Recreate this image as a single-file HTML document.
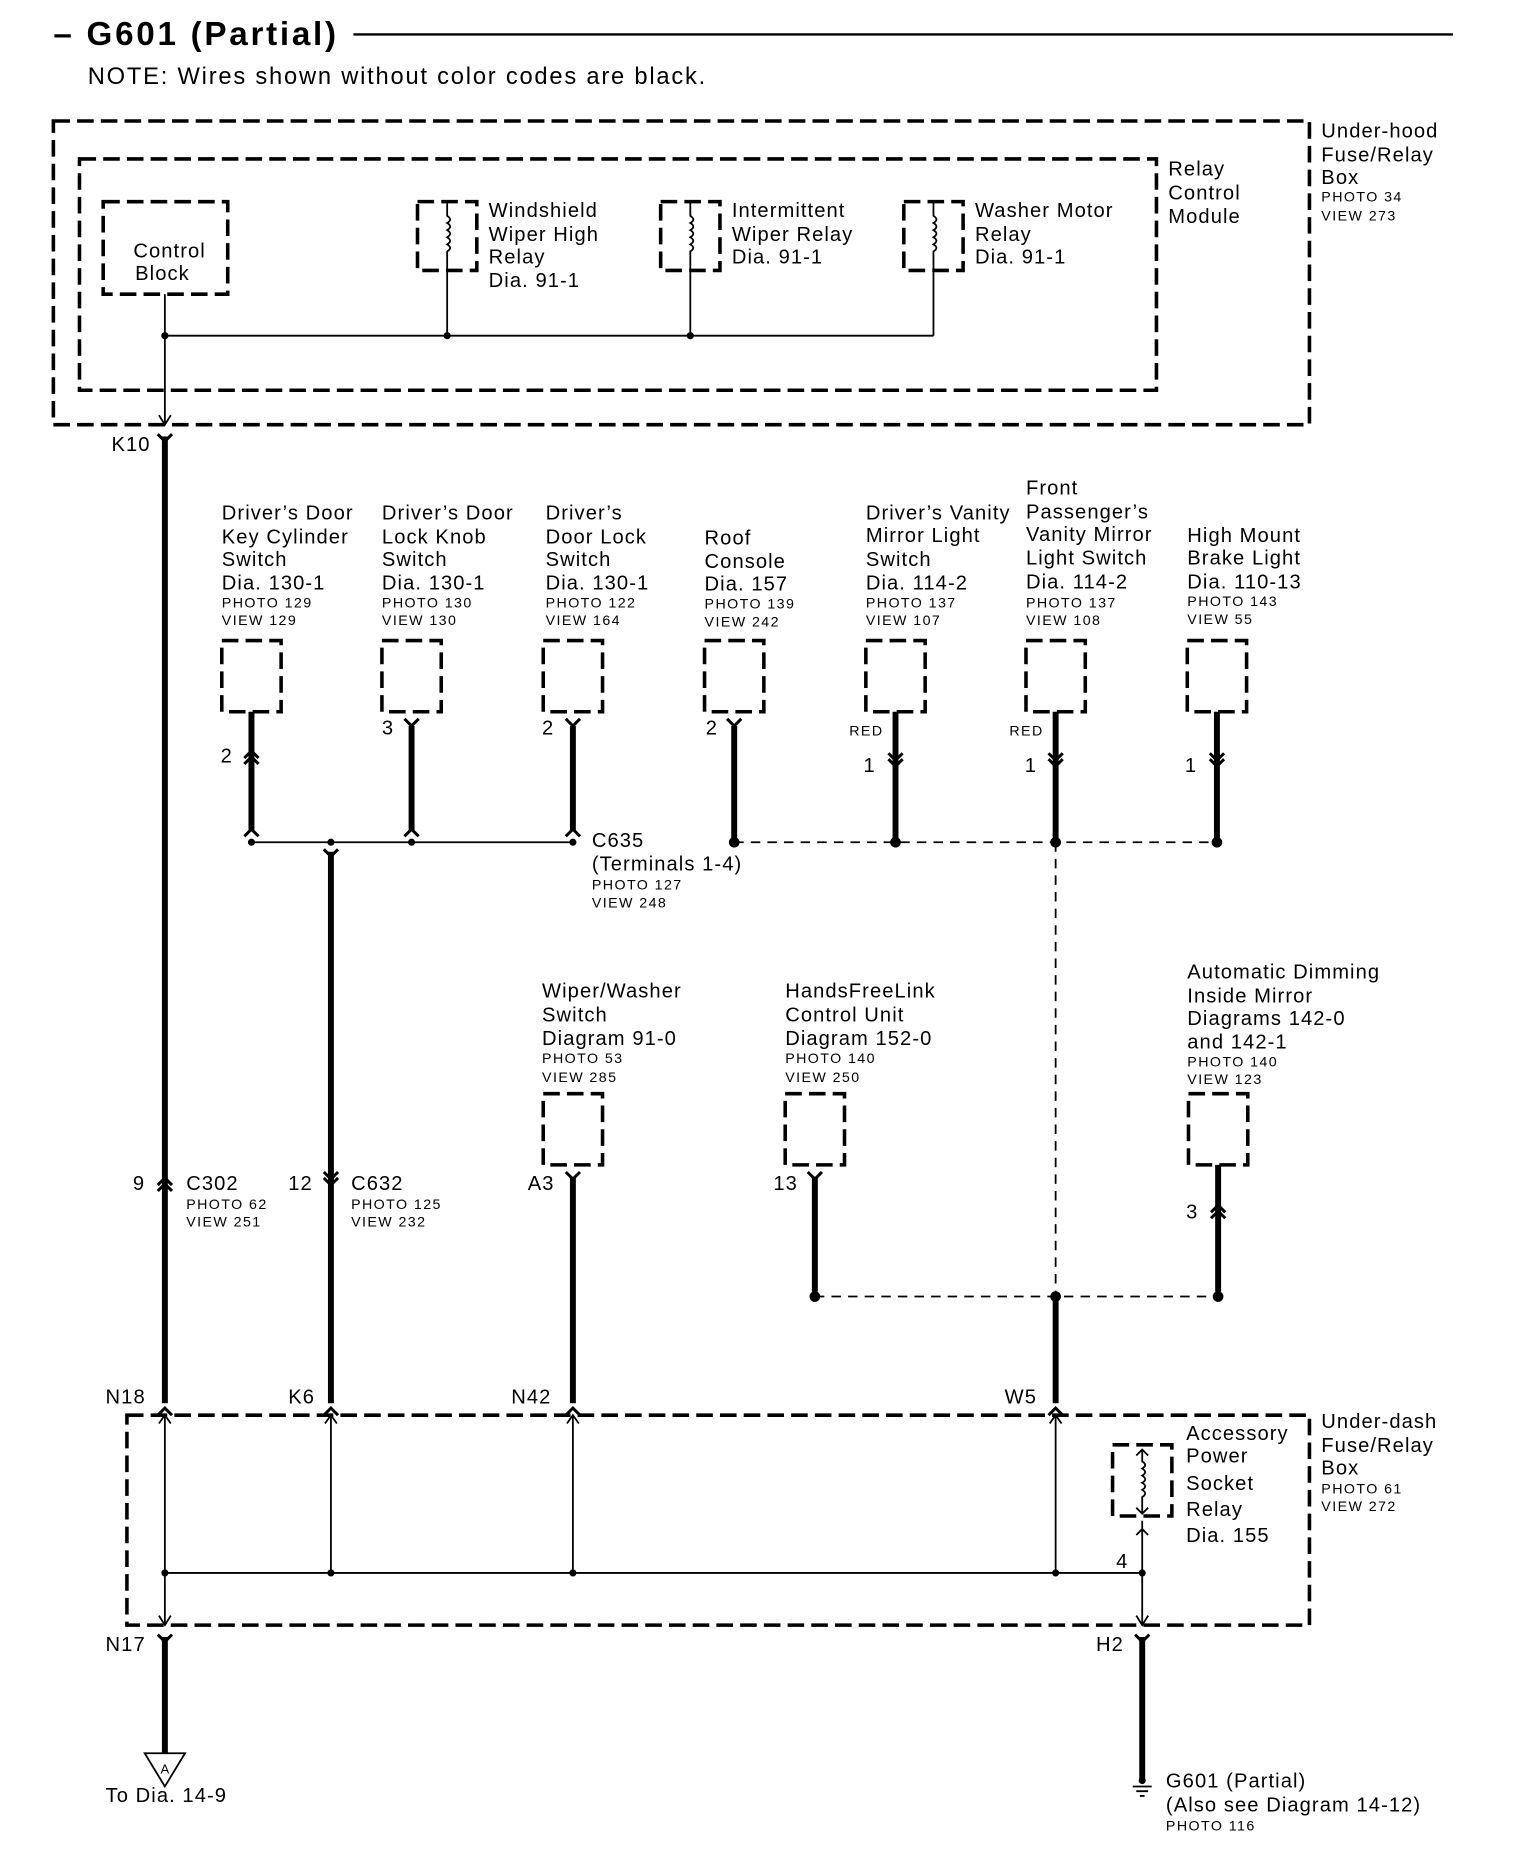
<!DOCTYPE html>
<html><head><meta charset="utf-8"><style>
html,body{margin:0;padding:0;background:#fff;}
svg{display:block;}
text{font-family:"Liberation Sans",Arial,sans-serif;fill:#000;}
.l{font-size:17px;letter-spacing:0.9px;}
.s{font-size:12px;letter-spacing:1.2px;}
.d{fill:none;stroke:#000;stroke-width:3;stroke-dasharray:14 6;}
.t{stroke:#000;stroke-width:5;fill:none;}
.n{stroke:#000;stroke-width:1.5;fill:none;}
.c{stroke:#000;stroke-width:2.5;fill:none;}
.dd{stroke:#000;stroke-width:1.5;stroke-dasharray:8 6;fill:none;}
</style></head><body>
<svg width="1536" height="1860" viewBox="0 0 1295 1568" preserveAspectRatio="none" xmlns="http://www.w3.org/2000/svg">
<defs>
<g id="box"><rect x="0" y="0" width="50" height="60" class="d" stroke-dasharray="12 6"/></g>
<g id="Y"><path d="M-6,-6 L0,0 L6,-6" class="c"/></g>
<g id="U"><path d="M-6,5 L0,-1 L6,5" class="c"/></g>
<g id="UU"><path d="M-6,3 L0,-3 L6,3 M-6,8 L0,2 L6,8" class="c"/></g>
<g id="YY"><path d="M-6,-8 L0,-2 L6,-8 M-6,-3 L0,3 L6,-3" class="c"/></g>
<g id="relay"><rect x="0" y="0" width="50" height="58" class="d" stroke-dasharray="12 6"/><path d="M25,0 V12 q5,3 0,6 q5,3 0,6 q5,3 0,6 q5,3 0,6 q5,3 0,6 V58" class="n"/></g>
</defs>
<!-- header -->
<text x="45" y="38" style="font-size:28px;font-weight:bold;letter-spacing:2.3px">– G601 (Partial)</text>
<line x1="298" y1="29" x2="1225" y2="29" stroke="#000" stroke-width="2"/>
<text x="74" y="71" style="font-size:20px;letter-spacing:1.5px">NOTE: Wires shown without color codes are black.</text>
<!-- underhood -->
<rect x="45" y="102" width="1059" height="256" class="d"/>
<rect x="67" y="134" width="908" height="195" class="d"/>
<text class="l" x="985" y="148">Relay</text><text class="l" x="985" y="168">Control</text><text class="l" x="985" y="188">Module</text>
<text class="l" x="1114" y="116">Under-hood</text><text class="l" x="1114" y="136">Fuse/Relay</text><text class="l" x="1114" y="155">Box</text>
<text class="s" x="1114" y="170">PHOTO 34</text><text class="s" x="1114" y="186">VIEW 273</text>
<rect x="87" y="170" width="105" height="78" class="d"/>
<text class="l" x="143" y="217" text-anchor="middle">Control</text><text class="l" x="137" y="236" text-anchor="middle">Block</text>
<use href="#relay" x="352" y="170"/><use href="#relay" x="557" y="170"/><use href="#relay" x="762" y="170"/>
<text class="l" x="412" y="183">Windshield</text><text class="l" x="412" y="203">Wiper High</text><text class="l" x="412" y="222">Relay</text><text class="l" x="412" y="242">Dia. 91-1</text>
<text class="l" x="617" y="183">Intermittent</text><text class="l" x="617" y="203">Wiper Relay</text><text class="l" x="617" y="222">Dia. 91-1</text>
<text class="l" x="822" y="183">Washer Motor</text><text class="l" x="822" y="203">Relay</text><text class="l" x="822" y="222">Dia. 91-1</text>
<path d="M377,228 V283 M582,228 V283 M787,228 V283 M139,283 H787 M139,248 V358 M134,350 L139,358 L144,350" class="n"/>
<circle cx="139" cy="283" r="3"/><circle cx="377" cy="283" r="3"/><circle cx="582" cy="283" r="3"/>
<use href="#Y" x="139" y="372"/><text class="l" x="94" y="380">K10</text>
<line x1="139" y1="368" x2="139" y2="1183" class="t"/>
<!-- switch row labels -->
<g class="l">
<text x="187" y="438">Driver’s Door</text><text x="187" y="458">Key Cylinder</text><text x="187" y="477">Switch</text><text x="187" y="497">Dia. 130-1</text>
<text x="322" y="438">Driver’s Door</text><text x="322" y="458">Lock Knob</text><text x="322" y="477">Switch</text><text x="322" y="497">Dia. 130-1</text>
<text x="460" y="438">Driver’s</text><text x="460" y="458">Door Lock</text><text x="460" y="477">Switch</text><text x="460" y="497">Dia. 130-1</text>
<text x="594" y="459">Roof</text><text x="594" y="479">Console</text><text x="594" y="498">Dia. 157</text>
<text x="730" y="438">Driver’s Vanity</text><text x="730" y="457">Mirror Light</text><text x="730" y="477">Switch</text><text x="730" y="497">Dia. 114-2</text>
<text x="865" y="417">Front</text><text x="865" y="437">Passenger’s</text><text x="865" y="456">Vanity Mirror</text><text x="865" y="476">Light Switch</text><text x="865" y="496">Dia. 114-2</text>
<text x="1001" y="457">High  Mount</text><text x="1001" y="476">Brake  Light</text><text x="1001" y="496">Dia. 110-13</text>
</g>
<g class="s">
<text x="187" y="512">PHOTO 129</text><text x="187" y="527">VIEW 129</text>
<text x="322" y="512">PHOTO 130</text><text x="322" y="527">VIEW 130</text>
<text x="460" y="512">PHOTO 122</text><text x="460" y="527">VIEW 164</text>
<text x="594" y="513">PHOTO 139</text><text x="594" y="528">VIEW 242</text>
<text x="730" y="512">PHOTO 137</text><text x="730" y="527">VIEW 107</text>
<text x="865" y="512">PHOTO 137</text><text x="865" y="527">VIEW 108</text>
<text x="1001" y="511">PHOTO 143</text><text x="1001" y="526">VIEW 55</text>
<text x="716" y="620">RED</text><text x="851" y="620">RED</text>
</g>
<use href="#box" x="187" y="540"/><use href="#box" x="322" y="540"/><use href="#box" x="458" y="540"/><use href="#box" x="594" y="540"/><use href="#box" x="730" y="540"/><use href="#box" x="865" y="540"/><use href="#box" x="1001" y="540"/>
<path d="M212,600 V701 M347,612 V701 M483,612 V701 M619,612 V706 M755,600 V706 M890,600 V706 M1026,600 V706" class="t"/>
<use href="#UU" x="212" y="636"/><text class="l" x="186" y="643">2</text>
<use href="#Y" x="347" y="612"/><text class="l" x="322" y="619">3</text>
<use href="#Y" x="483" y="612"/><text class="l" x="457" y="619">2</text>
<use href="#Y" x="619" y="612"/><text class="l" x="595" y="619">2</text>
<use href="#YY" x="755" y="643"/><text class="l" x="728" y="651">1</text>
<use href="#YY" x="890" y="643"/><text class="l" x="864" y="651">1</text>
<use href="#YY" x="1026" y="643"/><text class="l" x="999" y="651">1</text>
<use href="#U" x="212" y="700"/><use href="#U" x="347" y="700"/><use href="#U" x="483" y="700"/>
<path d="M212,710 H483" class="n"/>
<circle cx="212" cy="710" r="3"/><circle cx="279" cy="710" r="3"/><circle cx="347" cy="710" r="3"/><circle cx="483" cy="710" r="3"/>
<path d="M619,710 H1026 M890,710 V1093 M687,1093 H1026" class="dd"/>
<circle cx="619" cy="710" r="4.5"/><circle cx="755" cy="710" r="4.5"/><circle cx="890" cy="710" r="4.5"/><circle cx="1026" cy="710" r="4.5"/>
<use href="#Y" x="279" y="722"/><line x1="279" y1="718" x2="279" y2="1183" class="t"/>
<text class="l" x="499" y="714">C635</text><text class="l" x="499" y="734">(Terminals 1-4)</text><text class="s" x="499" y="750">PHOTO 127</text><text class="s" x="499" y="765">VIEW 248</text>
<!-- middle row -->
<g class="l">
<text x="457" y="841">Wiper/Washer</text><text x="457" y="861">Switch</text><text x="457" y="881">Diagram 91-0</text>
<text x="662" y="841">HandsFreeLink</text><text x="662" y="861">Control Unit</text><text x="662" y="881">Diagram 152-0</text>
<text x="1001" y="825">Automatic Dimming</text><text x="1001" y="845">Inside Mirror</text><text x="1001" y="864">Diagrams 142-0</text><text x="1001" y="884">and 142-1</text>
</g>
<g class="s">
<text x="457" y="896">PHOTO 53</text><text x="457" y="912">VIEW 285</text>
<text x="662" y="896">PHOTO 140</text><text x="662" y="912">VIEW 250</text>
<text x="1001" y="899">PHOTO 140</text><text x="1001" y="914">VIEW 123</text>
</g>
<use href="#box" x="458" y="922"/><use href="#box" x="662" y="922"/><use href="#box" x="1002" y="922"/>
<path d="M483,992 V1183 M687,992 V1089 M1027,982 V1089 M890,1093 V1183" class="t"/>
<use href="#Y" x="483" y="994"/><text class="l" x="445" y="1003">A3</text>
<use href="#Y" x="687" y="994"/><text class="l" x="652" y="1003">13</text>
<use href="#UU" x="1027" y="1019"/><text class="l" x="1000" y="1027">3</text>
<circle cx="687" cy="1093" r="4.5"/><circle cx="1027" cy="1093" r="4.5"/><circle cx="890" cy="1093" r="4.5"/>
<use href="#UU" x="139" y="996"/><text class="l" x="112" y="1003">9</text>
<text class="l" x="157" y="1003">C302</text><text class="s" x="157" y="1019">PHOTO 62</text><text class="s" x="157" y="1034">VIEW 251</text>
<use href="#YY" x="279" y="996"/><text class="l" x="243" y="1003">12</text>
<text class="l" x="296" y="1003">C632</text><text class="s" x="296" y="1019">PHOTO 125</text><text class="s" x="296" y="1034">VIEW 232</text>
<!-- underdash -->
<rect x="107" y="1193" width="997" height="177" class="d"/>
<text class="l" x="89" y="1183">N18</text><text class="l" x="243" y="1183">K6</text><text class="l" x="431" y="1183">N42</text><text class="l" x="847" y="1183">W5</text>
<use href="#U" x="139" y="1188"/><use href="#U" x="279" y="1188"/><use href="#U" x="483" y="1188"/><use href="#U" x="890" y="1188"/>
<path d="M139,1193 V1370 M279,1193 V1326 M483,1193 V1326 M890,1193 V1326 M139,1326 H963 M963,1282 V1370 M134,1200 L139,1193 L144,1200 M274,1200 L279,1193 L284,1200 M478,1200 L483,1193 L488,1200 M885,1200 L890,1193 L895,1200 M134,1362 L139,1370 L144,1362 M958,1362 L963,1370 L968,1362 M958,1294 L963,1289 L968,1294" class="n"/>
<circle cx="139" cy="1326" r="3"/><circle cx="279" cy="1326" r="3"/><circle cx="483" cy="1326" r="3"/><circle cx="890" cy="1326" r="3"/><circle cx="963" cy="1326" r="3"/>
<rect x="938" y="1218" width="50" height="60" class="d" stroke-dasharray="12 6"/>
<path d="M963,1222 V1232 q5,3 0,6 q5,3 0,6 q5,3 0,6 q5,3 0,6 q5,3 0,6 V1276 M958,1227 L963,1222 L968,1227 M958,1271 L963,1276 L968,1271" class="n"/>
<text class="l" x="941" y="1322">4</text>
<g class="l">
<text x="1000" y="1214">Accessory</text><text x="1000" y="1233">Power</text><text x="1000" y="1256">Socket</text><text x="1000" y="1278">Relay</text><text x="1000" y="1300">Dia.  155</text>
<text x="1114" y="1204">Under-dash</text><text x="1114" y="1224">Fuse/Relay</text><text x="1114" y="1243">Box</text>
</g>
<text class="s" x="1114" y="1259">PHOTO 61</text><text class="s" x="1114" y="1274">VIEW 272</text>
<!-- bottom -->
<use href="#Y" x="139" y="1384"/><text class="l" x="89" y="1392">N17</text>
<line x1="139" y1="1380" x2="139" y2="1478" class="t"/>
<path d="M122,1478 H156 L139,1506 Z" fill="#fff" stroke="#000" stroke-width="1.5"/>
<text x="139" y="1495" text-anchor="middle" style="font-size:11px">A</text>
<text class="l" x="89" y="1519">To Dia. 14-9</text>
<use href="#Y" x="963" y="1384"/><text class="l" x="924" y="1392">H2</text>
<line x1="963" y1="1380" x2="963" y2="1500" class="t"/>
<circle cx="963" cy="1501" r="3"/>
<path d="M955,1506 H971 M958,1510 H968 M961,1514 H965" stroke="#000" stroke-width="1.5"/>
<text class="l" x="983" y="1507">G601 (Partial)</text><text class="l" x="983" y="1527">(Also see Diagram 14-12)</text><text class="s" x="983" y="1543">PHOTO 116</text>
</svg>
</body></html>
